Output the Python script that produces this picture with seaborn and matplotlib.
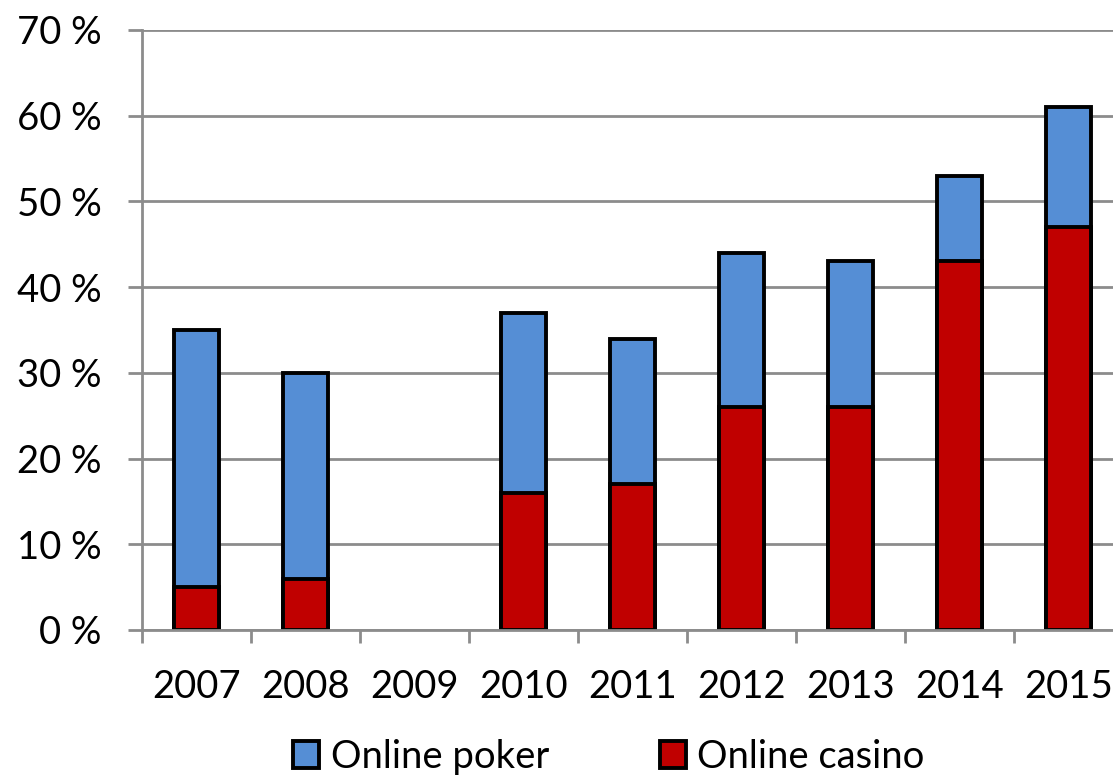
import matplotlib
matplotlib.use("Agg")
import matplotlib.pyplot as plt
from matplotlib.patches import Patch
import numpy as np
import pandas as pd
import seaborn as sns

# Share of respondents by year (percent)
years = ["2007", "2008", "2009", "2010", "2011", "2012", "2013", "2014", "2015"]
online_casino = [5, 6, np.nan, 16, 17, 26, 26, 43, 47]
online_poker = [30, 24, np.nan, 21, 17, 18, 17, 10, 14]

POKER_BLUE = "#558ED5"
CASINO_RED = "#C00000"
GRID_GREY = "#8C8C8C"
FONT_SIZE = 27.5

sns.set_theme(style="white")
plt.rcParams["font.family"] = ["Lato", "DejaVu Sans"]
plt.rcParams["text.color"] = "black"
plt.rcParams["xtick.color"] = "black"
plt.rcParams["ytick.color"] = "black"

df = pd.DataFrame({"year": years, "casino": online_casino, "poker": online_poker})
df["total"] = df["casino"] + df["poker"]

fig = plt.figure(figsize=(11.13, 7.79), dpi=100)
ax = fig.add_axes([142 / 1113, 1 - 630 / 779, 981 / 1113, 600 / 779])

bar_kw = dict(order=years, width=0.42, edgecolor="black", linewidth=2.8, saturation=1, ax=ax)
sns.barplot(data=df, x="year", y="total", color=POKER_BLUE, **bar_kw)
sns.barplot(data=df, x="year", y="casino", color=CASINO_RED, **bar_kw)

ax.set_xlim(-0.5, len(years) - 0.5)
ax.set_ylim(0, 70)
ax.set_xlabel("")
ax.set_ylabel("")

# y axis: percent labels with gridlines
yticks = np.arange(0, 71, 10)
ax.set_yticks(yticks)
ax.set_yticklabels([f"{v} %" for v in yticks])
ax.yaxis.grid(True, color=GRID_GREY, linewidth=2)
ax.set_axisbelow(True)
ax.tick_params(axis="y", length=10, width=2, color=GRID_GREY, labelcolor="black",
               pad=19, labelsize=FONT_SIZE, left=True)

# x axis: labels at category centres, tick marks between categories
ax.set_xticks(range(len(years)))
ax.set_xticklabels(years)
ax.set_xticks(np.arange(-0.5, len(years), 1.0), minor=True)
ax.tick_params(axis="x", which="major", length=0, pad=28, labelcolor="black", labelsize=FONT_SIZE)
ax.tick_params(axis="x", which="minor", length=9, width=2, color=GRID_GREY, bottom=True)

for side in ["top", "right"]:
    ax.spines[side].set_visible(False)
for side in ["left", "bottom"]:
    ax.spines[side].set_color(GRID_GREY)
    ax.spines[side].set_linewidth(2)

handles = [
    Patch(facecolor=POKER_BLUE, edgecolor="black", linewidth=2.8, label="Online poker"),
    Patch(facecolor=CASINO_RED, edgecolor="black", linewidth=2.8, label="Online casino"),
]
fig.legend(handles=handles, loc="center", bbox_to_anchor=(609 / 1113, 1 - 757 / 779),
           ncol=2, frameon=False, fontsize=FONT_SIZE, handlelength=0.68, handleheight=0.68,
           handletextpad=0.3, columnspacing=2.9)

fig.savefig("out.png", dpi=100)
